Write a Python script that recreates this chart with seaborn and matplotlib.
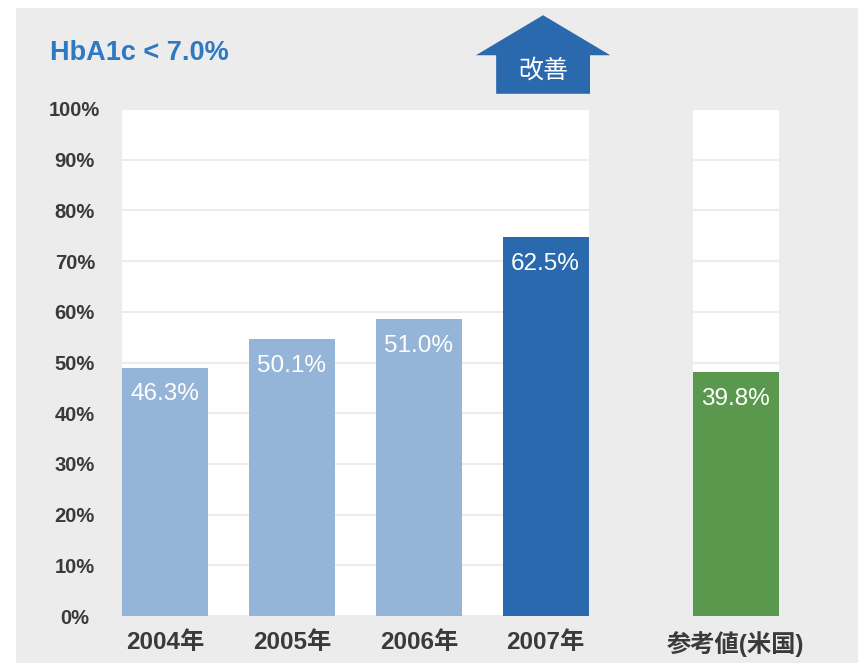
import matplotlib
matplotlib.use('Agg')
import matplotlib.pyplot as plt
from matplotlib.patches import Polygon, Rectangle
import pandas as pd
import seaborn as sns

# -------------------------------
# DATA
# -------------------------------
categories = ['2004年', '2005年', '2006年', '2007年', '参考値(米国)']
# where each bar ends on the 0-100% axis
bar_heights = [49.0, 54.6, 58.5, 74.7, 48.1]
# the numbers printed inside the bars
value_labels = ['46.3%', '50.1%', '51.0%', '62.5%', '39.8%']
y_ticks = [0, 10, 20, 30, 40, 50, 60, 70, 80, 90, 100]
y_tick_labels = ['0%', '10%', '20%', '30%', '40%', '50%', '60%', '70%', '80%', '90%', '100%']
title = 'HbA1c < 7.0%'
arrow_text = '改善'

# -------------------------------
# LAYOUT / STYLE
# -------------------------------
x_pos = [0, 1, 2, 3, 4.5]          # gap before the reference bar
bar_w = 0.68
bar_colors = ['#94b4d8', '#94b4d8', '#94b4d8', '#2b69ae', '#59984d']
BG = '#ececec'
DARK = '#3a3a3a'
TITLE_BLUE = '#2f78c2'

sns.set_theme(style='white')
plt.rcParams['font.family'] = ['Liberation Sans', 'Noto Sans CJK JP']

df = pd.DataFrame({'label': categories, 'pos': x_pos, 'height': bar_heights})

fig = plt.figure(figsize=(8.58, 6.63), dpi=100)
fig.patch.set_facecolor('white')
fig.add_artist(Rectangle((16 / 858, 0), 1, (663 - 8) / 663, transform=fig.transFigure,
                         facecolor=BG, edgecolor='none', zorder=-10))

ax = fig.add_axes([122 / 858, 47 / 663, 657 / 858, 507 / 663])
ax.set_facecolor('none')

sns.barplot(data=df, x='pos', y='height', hue='label',
            palette=dict(zip(categories, bar_colors)), native_scale=True,
            dodge=False, width=bar_w, saturation=1, legend=False,
            errorbar=None, linewidth=0, ax=ax, zorder=2)

# white panels behind the bars
ax.axvspan(x_pos[0] - bar_w / 2, x_pos[3] + bar_w / 2, color='white', lw=0, zorder=0)
ax.axvspan(x_pos[4] - bar_w / 2, x_pos[4] + bar_w / 2, color='white', lw=0, zorder=0)

ax.set_xlim(x_pos[0] - bar_w / 2, x_pos[4] + bar_w / 2)
ax.set_ylim(0, 100)
ax.set_yticks(y_ticks, y_tick_labels)
ax.set_xticks(x_pos, categories)
ax.yaxis.grid(True, color=BG, lw=1.5)
ax.xaxis.grid(False)
ax.set_axisbelow(True)
ax.set_xlabel('')
ax.set_ylabel('')
sns.despine(ax=ax, left=True, bottom=True)

ax.tick_params(axis='y', length=0, pad=34, labelsize=14.5, labelcolor=DARK)
ax.tick_params(axis='x', length=0, pad=11, labelsize=17.5, labelcolor=DARK)
for lab in ax.get_yticklabels():
    lab.set_horizontalalignment('center')
    lab.set_fontweight('bold')
for lab in ax.get_xticklabels():
    lab.set_fontweight('bold')

# value labels inside the tops of the bars
bars = sorted([p for c in ax.containers for p in c], key=lambda p: p.get_x())
for bar, txt in zip(bars, value_labels):
    ax.annotate(txt, xy=(bar.get_x() + bar.get_width() / 2, bar.get_height()),
                xytext=(0, -19), textcoords='offset points',
                ha='center', va='center', color='white', fontsize=17.5)

# "improved" arrow above the 2007 bar
b = bars[3]
xc = b.get_x() + b.get_width() / 2 - 0.02
stem, head = 0.37, 0.53
verts = [(xc - stem, 103), (xc - stem, 110.6), (xc - head, 110.6), (xc, 118.5),
         (xc + head, 110.6), (xc + stem, 110.6), (xc + stem, 103)]
ax.add_patch(Polygon(verts, closed=True, facecolor='#2b69ae', edgecolor='none',
                     clip_on=False, zorder=3))
ax.text(xc, 107.6, arrow_text, ha='center', va='center', color='white',
        fontsize=18, family=['Noto Sans CJK JP'], clip_on=False, zorder=4)

fig.text(50 / 858, 1 - 53 / 663, title, ha='left', va='center',
         color=TITLE_BLUE, fontsize=19.5, fontweight='bold')

fig.savefig('out.png', dpi=100, facecolor=fig.get_facecolor())
